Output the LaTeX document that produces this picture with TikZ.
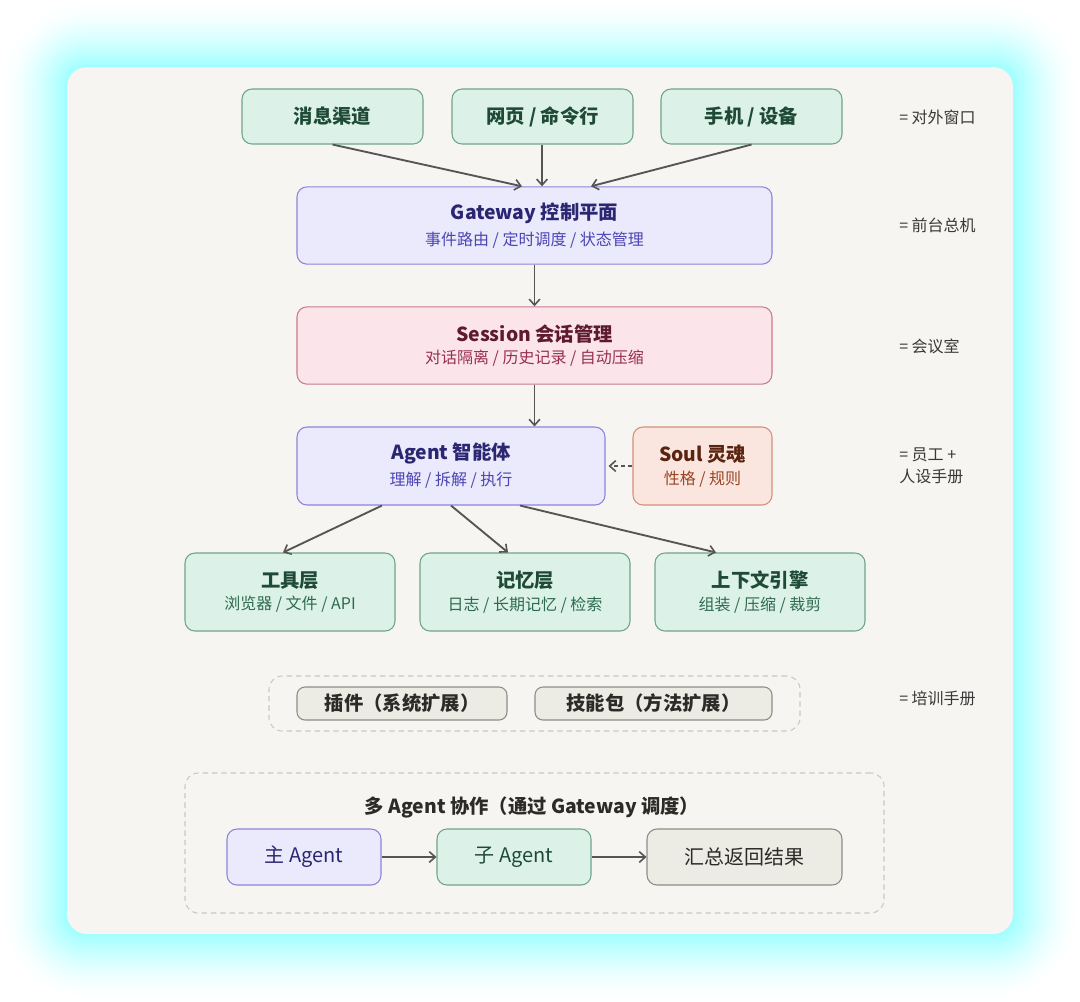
\documentclass[tikz,border=0pt]{standalone}
\usepackage{fontspec}
\setmainfont{Noto Sans CJK SC}
\usetikzlibrary{arrows.meta,calc}
\definecolor{glowc}{RGB}{0,255,255}
\definecolor{card}{HTML}{F7F5F2}
\definecolor{gfill}{HTML}{DCF2E8}
\definecolor{gline}{HTML}{6FA58A}
\definecolor{gtext}{HTML}{1F4A38}
\definecolor{gsub}{HTML}{2E6A50}
\definecolor{lfill}{HTML}{EBE9FC}
\definecolor{lline}{HTML}{8E84DA}
\definecolor{ltext}{HTML}{2B2672}
\definecolor{lsub}{HTML}{4D45B3}
\definecolor{pfill}{HTML}{FBE4EA}
\definecolor{pline}{HTML}{C97A8E}
\definecolor{ptext}{HTML}{5E1A2E}
\definecolor{psub}{HTML}{983050}
\definecolor{ofill}{HTML}{FAE6DE}
\definecolor{oline}{HTML}{D49079}
\definecolor{otext}{HTML}{5A2410}
\definecolor{osub}{HTML}{9A4526}
\definecolor{yfill}{HTML}{ECEBE4}
\definecolor{yline}{HTML}{8E8D85}
\definecolor{ytext}{HTML}{2B2B28}
\definecolor{arr}{HTML}{555555}
\definecolor{dashc}{HTML}{C9C8C3}
\definecolor{note}{HTML}{383838}
\newcommand\mytitle{\fontsize{14.5}{16}\selectfont\bfseries}
\newcommand\mysub{\fontsize{12}{14}\selectfont}
\newcommand\mybox{\fontsize{15}{17}\selectfont}
\newcommand\mynote{\fontsize{12}{16.5}\selectfont}
\begin{document}
\begin{tikzpicture}[x=0.75pt,y=-0.75pt,
  box/.style={draw, rounded corners=7.5pt, line width=0.8pt, inner sep=0pt, align=center},
  gbox/.style={box, fill=gfill, draw=gline, text=gtext},
  lbox/.style={box, fill=lfill, draw=lline, text=ltext},
  pbox/.style={box, fill=pfill, draw=pline, text=ptext},
  obox/.style={box, fill=ofill, draw=oline, text=otext},
  ybox/.style={box, fill=yfill, draw=yline, text=ytext},
  frame/.style={draw=dashc, dash pattern=on 4pt off 3pt, line width=0.8pt, rounded corners=10pt, inner sep=0pt},
  conn/.style={draw=arr, line width=1.4pt, -{Straight Barb[length=4.5pt,width=8pt,line width=1.2pt]}},
  notes/.style={text=note, anchor=west, align=left, font=\mynote, inner sep=0pt}
]
\useasboundingbox (0,0) rectangle (1080,1001);
\fill[white] (0,0) rectangle (1080,1001);
% glow
\foreach \i in {0,...,40}{
  \pgfmathsetmacro\d{66*(1-\i/40)}
  \pgfmathsetmacro\p{38*(\i/40)^1.6}
  \pgfmathsetmacro\r{(20+\d)*0.75}
  \fill[glowc!\p!white, rounded corners=\r pt] (67-\d,67-\d) rectangle (1013+\d,934+\d);
}
\fill[card, rounded corners=15pt] (67,67) rectangle (1013,934);

% top row
\node[gbox, minimum width=135.75pt, minimum height=41.25pt] (m1) at (332.5,116.5) {\mytitle 消息渠道};
\node[gbox, minimum width=135.75pt, minimum height=41.25pt] (m2) at (542.5,116.5) {\mytitle 网页 / 命令行};
\node[gbox, minimum width=135.75pt, minimum height=41.25pt] (m3) at (751.5,116.5) {\mytitle 手机 / 设备};

\node[lbox, minimum width=356.25pt, minimum height=58pt] (gw) at (534.5,225.5)
  {\mytitle Gateway 控制平面\\[5pt]{\mysub\color{lsub}事件路由 / 定时调度 / 状态管理}};
\node[pbox, minimum width=356.25pt, minimum height=58pt] (ss) at (534.5,345.5)
  {\mytitle Session 会话管理\\[5pt]{\mysub\color{psub}对话隔离 / 历史记录 / 自动压缩}};
\node[lbox, minimum width=231pt, minimum height=58.5pt] (ag) at (451,466)
  {\mytitle Agent 智能体\\[5pt]{\mysub\color{lsub}理解 / 拆解 / 执行}};
\node[obox, minimum width=104.25pt, minimum height=58.5pt] (so) at (702.5,466)
  {\mytitle Soul 灵魂\\[5pt]{\mysub\color{osub}性格 / 规则}};

\node[gbox, minimum width=157.5pt, minimum height=58.5pt] (t1) at (290,592)
  {\mytitle 工具层\\[5pt]{\mysub\color{gsub}浏览器 / 文件 / API}};
\node[gbox, minimum width=157.5pt, minimum height=58.5pt] (t2) at (525,592)
  {\mytitle 记忆层\\[5pt]{\mysub\color{gsub}日志 / 长期记忆 / 检索}};
\node[gbox, minimum width=157.5pt, minimum height=58.5pt] (t3) at (760,592)
  {\mytitle 上下文引擎\\[5pt]{\mysub\color{gsub}组装 / 压缩 / 裁剪}};

% plugins
\node[frame, minimum width=398.25pt, minimum height=41.25pt] (pf) at (534.5,703.5) {};
\node[ybox, rounded corners=6pt, minimum width=157.5pt, minimum height=24.75pt] (p1) at (402,703.5) {\mytitle 插件（系统扩展）};
\node[ybox, rounded corners=6pt, minimum width=177.75pt, minimum height=24.75pt] (p2) at (653.5,703.5) {\mytitle 技能包（方法扩展）};

% multi agent
\node[frame, minimum width=524.25pt, minimum height=105pt] (mf) at (534.5,843) {};
\node[text=ytext, inner sep=0pt] (mt) at (532,807) {\mytitle 多 Agent 协作（通过 Gateway 调度）};
\node[lbox, minimum width=115.5pt, minimum height=42pt] (a1) at (304,857) {\mybox 主 Agent};
\node[gbox, minimum width=115.5pt, minimum height=42pt] (a2) at (514,857) {\mybox 子 Agent};
\node[ybox, minimum width=146.25pt, minimum height=42pt] (a3) at (744.5,857) {\mybox 汇总返回结果};

% connectors
\draw[conn] (m1.south) -- ($(gw.north)+(-12.5,0)$);
\draw[conn] (m2.south -| 542,0) -- (gw.north -| 542,0);
\draw[conn] (m3.south) -- ($(gw.north)+(56.5,0)$);
\draw[conn] (gw.south) -- (ss.north);
\draw[conn] (ss.south) -- (ag.north -| ss.south);
\draw[conn, dashed, dash pattern=on 3pt off 2.5pt] (so.west) -- ($(ag.east)+(3,0)$);
\draw[conn] ($(ag.south)+(-69,0)$) -- ($(t1.north)+(-7,0)$);
\draw[conn] (ag.south) -- ($(t2.north)+(-17,0)$);
\draw[conn] ($(ag.south)+(69,0)$) -- ($(t3.north)+(-44,0)$);
\draw[conn] (a1.east) -- (a2.west);
\draw[conn] (a2.east) -- (a3.west);

% notes
\node[notes] (n1) at (899,117) {= 对外窗口};
\node[notes] (n2) at (899,225) {= 前台总机};
\node[notes] (n3) at (899,346) {= 会议室};
\node[notes] (n4) at (899,466) {= 员工 +\\人设手册};
\node[notes] (n5) at (899,698) {= 培训手册};
\end{tikzpicture}
\end{document}
